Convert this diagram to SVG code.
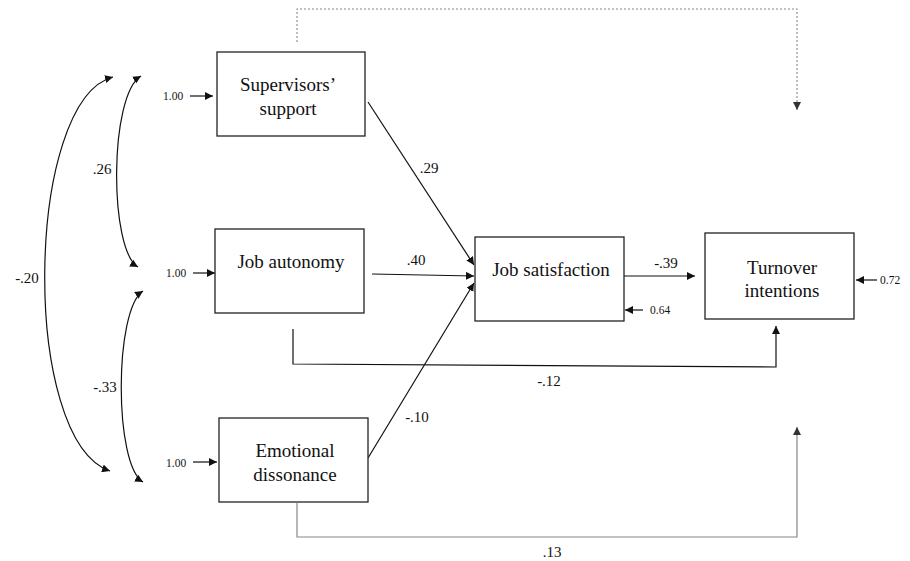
<svg xmlns="http://www.w3.org/2000/svg" width="910" height="561" viewBox="0 0 910 561" font-family="'Liberation Serif', 'DejaVu Serif', serif">
<defs>
<marker id="ah" viewBox="0 0 10 10" refX="10" refY="5" markerWidth="8" markerHeight="8" markerUnits="userSpaceOnUse" orient="auto-start-reverse"><path d="M0,0 L10,5 L0,10 z" fill="#111"/></marker>
<marker id="ahg" viewBox="0 0 10 10" refX="10" refY="5" markerWidth="8" markerHeight="8" markerUnits="userSpaceOnUse" orient="auto-start-reverse"><path d="M0,0 L10,5 L0,10 z" fill="#333"/></marker>
</defs>
<style>
.box{fill:#fff;stroke:#222;stroke-width:1.3}
text{font-family:'Liberation Serif','DejaVu Serif',serif}
.lbl{font-size:19px;fill:#111;text-anchor:middle}
.num{font-size:15px;fill:#111;text-anchor:middle}
.sm{font-size:11.5px;fill:#111}
.ln{fill:none;stroke:#111;stroke-width:1.2}
.gr{fill:none;stroke:#888;stroke-width:1.2}
.dot{fill:none;stroke:#888;stroke-width:1.1;stroke-dasharray:2,2}
</style>
<rect width="910" height="561" fill="#fff"/>
<g id="connectors">
<path class="dot" d="M297,42 V9 H797 V110" marker-end="url(#ahg)"/>
<path class="ln" d="M141,76 C109,95 109,250 138,267" marker-start="url(#ah)" marker-end="url(#ah)"/>
<path class="ln" d="M143,291 C114,310 114,465 143,482" marker-start="url(#ah)" marker-end="url(#ah)"/>
<path class="ln" d="M113,77 C25,100 20,440 110,471" marker-start="url(#ah)" marker-end="url(#ah)"/>
<path class="ln" d="M190,96 H213" marker-end="url(#ah)"/>
<path class="ln" d="M193,273 H215" marker-end="url(#ah)"/>
<path class="ln" d="M193,462 H217" marker-end="url(#ah)"/>
<path class="ln" d="M368,102 L474,265" marker-end="url(#ah)"/>
<path class="ln" d="M372,274 L474,276" marker-end="url(#ah)"/>
<path class="ln" d="M368,458 L474,283" marker-end="url(#ah)"/>
<path class="ln" d="M624,276 H695" marker-end="url(#ah)"/>
<path class="ln" d="M643,310 H625" marker-end="url(#ah)"/>
<path class="ln" d="M877,280 H856" marker-end="url(#ah)"/>
<path class="ln" d="M293,329 V364 L776,367 V326" marker-end="url(#ah)"/>
<path class="gr" d="M297,503 V537 H797 V427" marker-end="url(#ahg)"/>
</g>
<g id="labels">
<text class="num" x="102" y="174">.26</text>
<text class="num" x="27" y="283">-.20</text>
<text class="num" x="105" y="392">-.33</text>
<text class="num" x="429" y="173">.29</text>
<text class="num" x="416" y="265">.40</text>
<text class="num" x="417" y="422">-.10</text>
<text class="num" x="666" y="268">-.39</text>
<text class="num" x="549" y="386">-.12</text>
<text class="num" x="552" y="557">.13</text>
<text class="sm" x="163" y="100">1.00</text>
<text class="sm" x="166" y="277">1.00</text>
<text class="sm" x="166" y="467">1.00</text>
<text class="sm" x="650" y="314">0.64</text>
<text class="sm" x="880" y="284">0.72</text>
</g>
<g id="supervisors">
<rect class="box" x="217" y="52" width="148" height="84"/>
<text class="lbl" x="288" y="91">Supervisors’</text>
<text class="lbl" x="288" y="115">support</text>
</g>
<g id="autonomy">
<rect class="box" x="215" y="229" width="149" height="84"/>
<text class="lbl" x="291" y="268">Job autonomy</text>
</g>
<g id="dissonance">
<rect class="box" x="219" y="418" width="149" height="84"/>
<text class="lbl" x="295" y="457">Emotional</text>
<text class="lbl" x="295" y="481">dissonance</text>
</g>
<g id="satisfaction">
<rect class="box" x="475" y="237" width="149" height="84"/>
<text class="lbl" x="551" y="276">Job satisfaction</text>
</g>
<g id="turnover">
<rect class="box" x="705" y="233" width="149" height="86"/>
<text class="lbl" x="782" y="274">Turnover</text>
<text class="lbl" x="782" y="297">intentions</text>
</g>
</svg>
